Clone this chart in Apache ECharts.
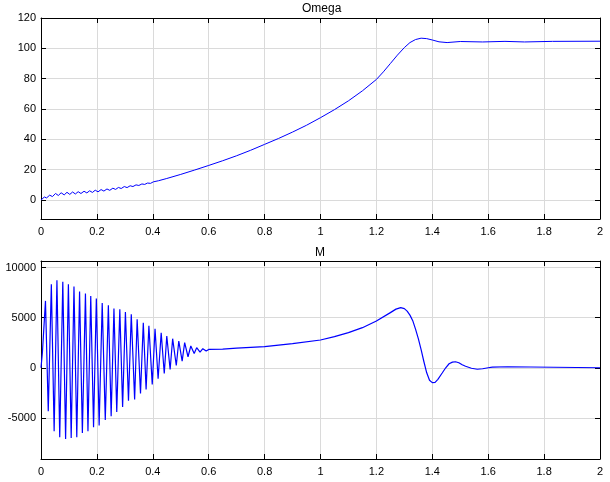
<!DOCTYPE html>
<html>
<head>
<meta charset="utf-8">
<script src="https://cdn.jsdelivr.net/npm/echarts@6/dist/echarts.min.js"></script>
<style>
  html, body { margin: 0; padding: 0; background: #fff; }
  #chart { width: 610px; height: 482px; }
</style>
</head>
<body>
<div id="chart"></div>
<script>
// x tick labels (both plots)
const timeTicks = [0, 0.2, 0.4, 0.6, 0.8, 1, 1.2, 1.4, 1.6, 1.8, 2];

// Omega (top plot)
const omegaT = [0, 0.012, 0.02, 0.031, 0.041, 0.052, 0.062, 0.072, 0.083, 0.093, 0.103, 0.113, 0.123, 0.133, 0.143,
  0.154, 0.164, 0.174, 0.184, 0.194, 0.204, 0.215, 0.225, 0.236, 0.246, 0.257, 0.267, 0.277, 0.287, 0.298, 0.308,
  0.319, 0.329, 0.34, 0.35, 0.361, 0.371, 0.381, 0.392, 0.402, 0.42, 0.45, 0.5, 0.55, 0.6, 0.65, 0.7, 0.75, 0.8,
  0.85, 0.9, 0.95, 1.0, 1.05, 1.1, 1.15, 1.2, 1.225, 1.25, 1.275, 1.3, 1.32, 1.34, 1.36, 1.38, 1.4, 1.424, 1.453,
  1.5, 1.58, 1.66, 1.73, 1.83, 2.0];
const omegaV = [0, 2.0, 1.4, 3.2, 2.3, 4.3, 3.0, 4.8, 3.4, 5.1, 3.7, 5.3, 4.0, 5.5, 4.3,
  5.8, 4.7, 6.1, 5.0, 6.5, 5.4, 6.9, 5.9, 7.3, 6.4, 7.8, 7.0, 8.3, 7.6, 8.9, 8.2,
  9.4, 8.9, 10.0, 9.6, 10.6, 10.3, 11.2, 11.0, 12.0, 12.7, 14.2, 16.9, 19.8, 22.8, 25.9, 29.2, 32.8, 36.7,
  40.6, 44.8, 49.3, 54.3, 59.6, 65.4, 72.0, 79.5, 84.5, 90.0, 95.5, 100.5, 103.8, 105.8, 106.7, 106.4, 105.5, 104.3, 103.8,
  104.5, 104.2, 104.6, 104.2, 104.6, 104.7];

// M (bottom plot)
const mT = [0, 0.005, 0.016, 0.026, 0.037, 0.047, 0.057, 0.067, 0.078, 0.088, 0.098, 0.108, 0.118, 0.128, 0.138,
  0.148, 0.159, 0.168, 0.178, 0.188, 0.198, 0.208, 0.219, 0.23, 0.241, 0.251, 0.261, 0.271, 0.282, 0.292, 0.302,
  0.313, 0.323, 0.335, 0.344, 0.356, 0.366, 0.376, 0.386, 0.398, 0.408, 0.419, 0.43, 0.441, 0.45, 0.462, 0.471,
  0.484, 0.493, 0.505, 0.514, 0.526, 0.536, 0.548, 0.557, 0.569, 0.579, 0.591, 0.6,
  0.65, 0.7, 0.8, 0.9, 1.0, 1.05, 1.1, 1.15, 1.2, 1.25, 1.27, 1.287, 1.3, 1.31, 1.32, 1.33, 1.34, 1.35, 1.36,
  1.37, 1.38, 1.39, 1.4, 1.41, 1.42, 1.436, 1.448, 1.46, 1.472, 1.483, 1.495, 1.507, 1.519, 1.54, 1.561, 1.58,
  1.6, 1.615, 1.62, 1.67, 1.675, 2.0];
const mV = [0, 1500, 6670, -4330, 8330, -6330, 8730, -6930, 8570, -7100, 8330, -7000, 8100, -6930, 7600,
  -6500, 7400, -6330, 7170, -5930, 6900, -5750, 6450, -5200, 6230, -4830, 5900, -4400, 5830, -3900, 5570,
  -3300, 5330, -3170, 4830, -2570, 4500, -2170, 4200, -1670, 3900, -1100, 3500, -570, 3170, -170, 2900,
  230, 2670, 670, 2500, 1100, 2170, 1430, 2000, 1570, 1900, 1670, 1830,
  1850, 1950, 2100, 2400, 2770, 3100, 3500, 4000, 4670, 5500, 5850, 6000, 5900, 5650, 5250, 4700, 3850, 2900, 1800,
  600, -500, -1250, -1480, -1450, -1150, -500, 0, 400, 560, 600, 500, 300, 150, -50, -150, -100,
  0, 60, 100, 100, 0, 0];

const zip = (xs, ys) => xs.map((x, i) => [x, ys[i]]);

const black = '#000';
const font = 'Liberation Sans, Arial, sans-serif';

function xAxes(gridIndex) {
  const base = {
    type: 'value', gridIndex: gridIndex,
    min: timeTicks[0], max: timeTicks[timeTicks.length - 1], interval: 0.2,
    axisLine: { show: true, onZero: false, lineStyle: { color: black, width: 1 } },
    axisTick: { show: true, inside: true, length: 5, lineStyle: { color: black } }
  };
  return [
    Object.assign({}, base, {
      position: 'bottom',
      axisLabel: { color: black, fontSize: 11, fontFamily: font, margin: 7 },
      splitLine: { show: true, lineStyle: { color: '#dadada', width: 1 } }
    }),
    Object.assign({}, base, {
      position: 'top',
      axisLabel: { show: false },
      splitLine: { show: false }
    })
  ];
}

function yAxes(gridIndex, min, max, step) {
  const base = {
    type: 'value', gridIndex: gridIndex, min: min, max: max,
    minInterval: step, maxInterval: step,
    axisLine: { show: true, onZero: false, lineStyle: { color: black, width: 1 } },
    axisTick: { show: true, inside: true, length: 5, lineStyle: { color: black } }
  };
  return [
    Object.assign({}, base, {
      position: 'left',
      axisLabel: {
        color: black, fontSize: 11, fontFamily: font, margin: 5, showMinLabel: false,
        formatter: v => String(v)
      },
      splitLine: { show: true, lineStyle: { color: '#dadada', width: 1 } }
    }),
    Object.assign({}, base, {
      position: 'right',
      axisLabel: { show: false },
      splitLine: { show: false }
    })
  ];
}

const chart = echarts.init(document.getElementById('chart'));
const bottomY = yAxes(1, -9100, 10650, 5000);
bottomY[0].axisLabel.showMaxLabel = false;

chart.setOption({
  animation: false,
  backgroundColor: '#fff',
  graphic: [
    { type: 'text', left: 320 - 18, top: 3, style: { text: 'Omega', fill: black, font: '12px ' + font } },
    { type: 'text', left: 320 - 5, top: 247, style: { text: 'M', fill: black, font: '12px ' + font } }
  ],
  grid: [
    { left: 41, right: 10, top: 18, height: 201 },
    { left: 41, right: 10, top: 261, height: 198 }
  ],
  xAxis: xAxes(0).concat(xAxes(1)),
  yAxis: yAxes(0, -12.5, 120, 20).concat(bottomY),
  series: [
    {
      name: 'Omega', type: 'line', xAxisIndex: 0, yAxisIndex: 0,
      data: zip(omegaT, omegaV), showSymbol: false,
      lineStyle: { color: '#0000ff', width: 1 }
    },
    {
      name: 'M', type: 'line', xAxisIndex: 2, yAxisIndex: 2,
      data: zip(mT, mV), showSymbol: false,
      lineStyle: { color: '#0000ff', width: 1.2 }
    }
  ]
});
</script>
</body>
</html>
